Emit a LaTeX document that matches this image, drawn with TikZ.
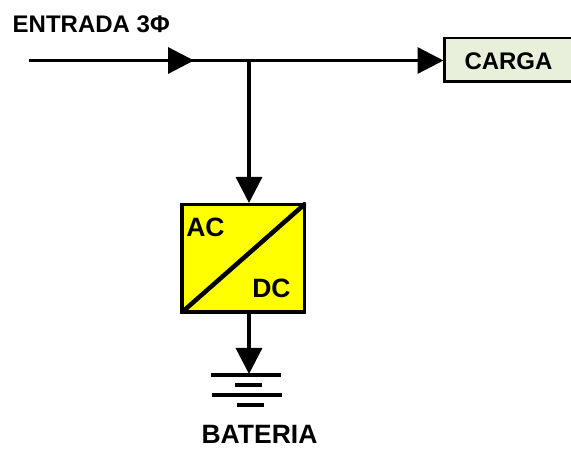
\documentclass[tikz,border=0pt]{standalone}
\usepackage{fontspec}
\setmainfont{Liberation Sans}
\usetikzlibrary{arrows.meta}
\definecolor{cargafill}{HTML}{E8F0DC}
\definecolor{convfill}{RGB}{255,255,0}
\tikzset{
  wire/.style={line width=3.3pt,-{Triangle[length=26pt,width=26pt]}},
  plain/.style={line width=3.3pt},
  lab/.style={font=\fontsize{24}{26}\selectfont\bfseries,inner sep=0pt,text=black},
  labb/.style={font=\fontsize{26.5}{28}\selectfont\bfseries,inner sep=0pt,text=black},
  cell/.style={line width=4pt}
}
\begin{document}
\begin{tikzpicture}[x=1pt,y=-1pt]
\useasboundingbox (0,0) rectangle (571,449);
\fill[white] (0,0) rectangle (571,449);
% load box, running off the right edge
\filldraw[fill=cargafill,draw=black,line width=2.5pt] (576,38) -- (444.5,38) -- (444.5,81.5) -- (576,81.5);
\node[lab,anchor=center] (carga) at (508.5,61) {CARGA};
\coordinate (cargaw) at (443.5,60.5);
% converter
\node[draw=black,fill=convfill,line width=3.5pt,minimum width=122.5pt,minimum height=107.5pt,inner sep=0pt,anchor=center] (conv) at (243,258.5) {};
\begin{scope}
\clip (conv.south west) rectangle (conv.north east);
\draw[line width=4.5pt] (conv.south west) -- (conv.north east);
\end{scope}
\node[labb,anchor=center] (ac) at (205.5,227) {AC};
\node[labb,anchor=center] (dc) at (271.5,288.5) {DC};
% wires
\coordinate (in) at (29,60.5);
\coordinate (mid) at (194,60.5);
\coordinate (junc) at (249,60.5);
\coordinate (convtop) at (249,203);
\coordinate (convbot) at (249,313);
\coordinate (battop) at (249,374);
\draw[plain] (in) -- (junc);
\draw[wire] (in) -- (mid);
\draw[wire] (junc) -- (cargaw);
\draw[wire] (junc) -- (convtop);
\draw[wire] (convbot) -- (battop);
% battery
\coordinate (b1l) at (211,375); \coordinate (b1r) at (281,375);
\coordinate (b2l) at (235,385); \coordinate (b2r) at (262,385);
\coordinate (b3l) at (212,395); \coordinate (b3r) at (282,395);
\coordinate (b4l) at (237,405); \coordinate (b4r) at (264,405);
\draw[cell] (b1l) -- (b1r);
\draw[cell] (b2l) -- (b2r);
\draw[cell] (b3l) -- (b3r);
\draw[cell] (b4l) -- (b4r);
\node[labb,anchor=center] (bat) at (259.5,434) {BATERIA};
\node[lab,anchor=west] (ent) at (12.5,24) {ENTRADA 3Φ};
\end{tikzpicture}
\end{document}
